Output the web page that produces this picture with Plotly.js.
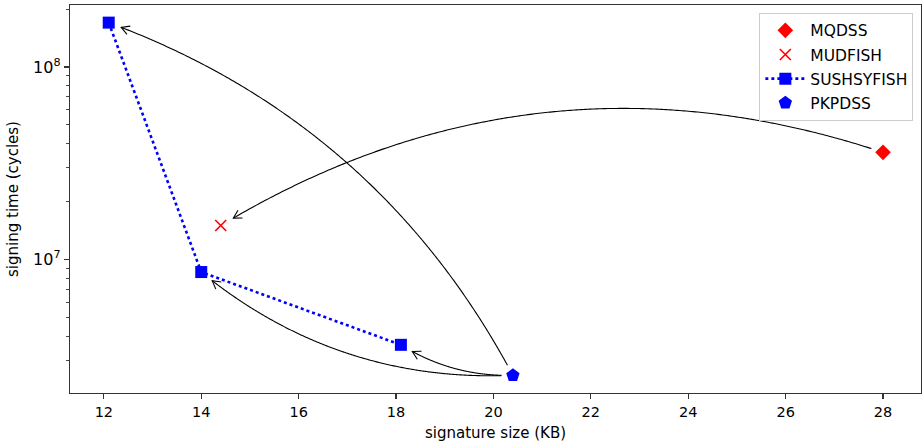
<!DOCTYPE html>
<html>
<head>
<meta charset="utf-8">
<script src="https://cdn.plot.ly/plotly-3.0.1.min.js"></script>
<style>html,body{margin:0;padding:0;background:#fff;}#chart{width:922px;height:448px;}</style>
</head>
<body>
<div id="chart"></div>
<script>
// ---- data ----
const mqdssX = [28.0];
const mqdssY = [3.6e7];
const mudfishX = [14.4];
const mudfishY = [1.5e7];
const sushX = [12.1, 14.0, 18.1];
const sushY = [1.7e8, 8.6e6, 3.6e6];
const pkpdssX = [20.4];
const pkpdssY = [2.5e6];
const yTickVals = [1e7, 1e8];
const yTickText = ['10<sup>7</sup>', '10<sup>8</sup>'];
const xTickVals = [12, 14, 16, 18, 20, 22, 24, 26, 28];

// arrows: [fromX, fromY, toX, toY, curvature]
const arrows = [
  [mqdssX[0], mqdssY[0], mudfishX[0], mudfishY[0], 0.23],
  [pkpdssX[0], pkpdssY[0], sushX[0], sushY[0], 0.19],
  [pkpdssX[0], pkpdssY[0], sushX[1], sushY[1], -0.19],
  [pkpdssX[0], pkpdssY[0], sushX[2], sushY[2], -0.15]
];

// ---- layout geometry ----
const W = 922, H = 448;
const M = {l: 70, r: 1, t: 5, b: 55, pad: 0};
const plotW = W - M.l - M.r, plotH = H - M.t - M.b;
const xr = [11.305, 28.78];
const yr = [6.306, 8.322];

function toPx(x, y) {
  return [M.l + (x - xr[0]) / (xr[1] - xr[0]) * plotW,
          M.t + (yr[1] - Math.log10(y)) / (yr[1] - yr[0]) * plotH];
}
function toPaper(p) {
  return [(p[0] - M.l) / plotW, 1 - (p[1] - M.t) / plotH];
}

const shapes = [];
arrows.forEach(a => {
  const p1 = toPx(a[0], a[1]), p2 = toPx(a[2], a[3]);
  const f = a[4];
  const mx = (p1[0] + p2[0]) / 2, mY = -(p1[1] + p2[1]) / 2;
  const dx = p2[0] - p1[0], dY = -(p2[1] - p1[1]);
  const c = [mx + f * dY, -(mY - f * dx)];
  const N = 300, pts = [];
  for (let i = 0; i <= N; i++) {
    const t = i / N, u = 1 - t;
    pts.push([u*u*p1[0] + 2*u*t*c[0] + t*t*p2[0], u*u*p1[1] + 2*u*t*c[1] + t*t*p2[1]]);
  }
  const cum = [0];
  for (let i = 1; i < pts.length; i++) cum.push(cum[i-1] + Math.hypot(pts[i][0]-pts[i-1][0], pts[i][1]-pts[i-1][1]));
  const total = cum[cum.length - 1];
  const sA = 11, sB = 13;
  const seg = pts.filter((p, i) => cum[i] >= sA && cum[i] <= total - sB);
  let d = '';
  seg.forEach((p, i) => { const q = toPaper(p); d += (i ? ' L ' : 'M ') + q[0].toFixed(5) + ',' + q[1].toFixed(5); });
  shapes.push({type: 'path', xref: 'paper', yref: 'paper', path: d, line: {color: '#000', width: 1.1}});
  const tip = seg[seg.length - 1], prev = seg[seg.length - 6];
  let ux = tip[0] - prev[0], uy = tip[1] - prev[1];
  const L = Math.hypot(ux, uy); ux /= L; uy /= L;
  const hl = 8, hw = 4.5;
  const h1 = [tip[0] - hl*ux - hw*uy, tip[1] - hl*uy + hw*ux];
  const h2 = [tip[0] - hl*ux + hw*uy, tip[1] - hl*uy - hw*ux];
  const a1 = toPaper(h1), t0 = toPaper(tip), a2 = toPaper(h2);
  shapes.push({type: 'path', xref: 'paper', yref: 'paper',
    path: 'M ' + a1.join(',') + ' L ' + t0.join(',') + ' L ' + a2.join(','),
    line: {color: '#000', width: 1.1}});
});

const traces = [
  {x: mqdssX, y: mqdssY, name: 'MQDSS', mode: 'markers', type: 'scatter', legendgroup: 'a',
   marker: {symbol: 'diamond', size: 12, color: '#ff0000'}},
  {x: mudfishX, y: mudfishY, name: 'MUDFISH', mode: 'markers', type: 'scatter', legendgroup: 'b',
   marker: {symbol: 'x-thin-open', size: 11, color: '#ff0000', line: {color: '#ff0000', width: 1.6}}},
  {x: sushX, y: sushY, name: 'SUSHSYFISH', mode: 'lines+markers', type: 'scatter', legendgroup: 'c',
   line: {color: '#0000ff', width: 2.6, dash: 'dot'},
   marker: {symbol: 'square', size: 12, color: '#0000ff'}},
  {x: pkpdssX, y: pkpdssY, name: 'PKPDSS', mode: 'markers', type: 'scatter', legendgroup: 'd',
   marker: {symbol: 'pentagon', size: 14, color: '#0000ff'}}
];

const minorVals = [];
[1e6, 1e7, 1e8].forEach(dec => { for (let k = 2; k <= 9; k++) minorVals.push(k * dec); });

const axisCommon = {
  showgrid: false, zeroline: false, showline: true, mirror: true,
  linecolor: '#333', linewidth: 1.3, ticks: 'outside', ticklen: 5, tickwidth: 1.1, tickcolor: '#333',
  tickfont: {family: 'DejaVu Sans', size: 14.5, color: '#000'}
};

const layout = {
  width: W, height: H, margin: M,
  paper_bgcolor: '#fff', plot_bgcolor: '#fff',
  font: {family: 'DejaVu Sans', color: '#000'},
  xaxis: Object.assign({}, axisCommon, {
    range: xr, tickmode: 'array', tickvals: xTickVals,
    title: {text: 'signature size (KB)', font: {family: 'DejaVu Sans', size: 15}, standoff: 8}
  }),
  yaxis: Object.assign({}, axisCommon, {
    type: 'log', range: yr, tickmode: 'array', tickvals: yTickVals, ticktext: yTickText,
    tickfont: {family: 'DejaVu Sans', size: 16, color: '#000'},
    minor: {tickmode: 'array', tickvals: minorVals, ticklen: 3, tickwidth: 0.9, tickcolor: '#333', showgrid: false},
    title: {text: 'signing time (cycles)', font: {family: 'DejaVu Sans', size: 15}, standoff: 10}
  }),
  legend: {
    x: 0.991, y: 0.98, xanchor: 'right', yanchor: 'top',
    bgcolor: 'rgba(255,255,255,0.8)', bordercolor: '#cccccc', borderwidth: 1,
    font: {family: 'DejaVu Sans', size: 15.5, color: '#000'},
    traceorder: 'grouped', tracegroupgap: 1, itemwidth: 40
  },
  shapes: shapes,
  showlegend: true
};

Plotly.newPlot('chart', traces, layout, {displayModeBar: false, staticPlot: true});
</script>
</body>
</html>
